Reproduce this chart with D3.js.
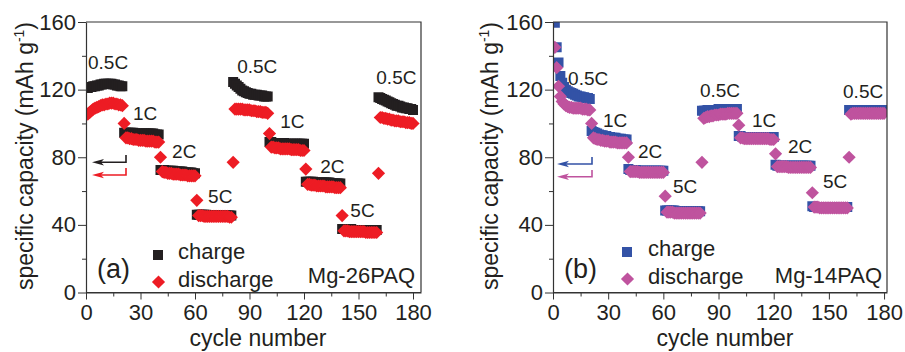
<!DOCTYPE html>
<html><head><meta charset="utf-8">
<script src="https://cdn.jsdelivr.net/npm/d3@7"></script>
<style>
body{margin:0;background:#fff}
svg{display:block}
text{font-family:"Liberation Sans",Arial,Helvetica,sans-serif;fill:#231f20}
</style>
</head><body>
<svg id="chart" width="905" height="352"></svg>
<script>
// ---------------- DATA ----------------
const xTicks = [0, 30, 60, 90, 120, 150, 180];
const xMinorTicks = [15, 45, 75, 105, 135, 165];
const yTicks = [0, 40, 80, 120, 160];
const yMinorTicks = [20, 60, 100, 140];
const seriesNames = ["charge", "discharge"];
const rateLabels = ["0.5C", "1C", "2C", "5C", "0.5C", "1C", "2C", "5C", "0.5C"];

// Mg-26PAQ (panel a), cycles 1..180
const chargeA = [
  121,121.5,121.5,122,122,122.5,122.5,123,123,123.5,123.5,123.5,123.5,123.5,123,123,122.5,122.5,122,122,
  94.5,94.5,94.5,94.5,94.5,94.5,94,94,94,94,94,94,94,94,94,94,94,93.5,93.5,93.5,
  72.5,72.5,72.5,72,72,72,72,72,71.5,71.5,71.5,71.5,71.5,71,71,71,71,71,70.5,70.5,
  46,46,46,46,46,46,45.5,45.5,45.5,45.5,45.5,45.5,45.5,45.5,45.5,45.5,45.5,45.5,45.5,45.5,
  124.5,123.5,122.5,121.5,120.5,119.5,119,118.5,118,117.5,117.5,117,117,117,116.5,116.5,116.5,116,116,116,
  89,89,88.5,88.5,88.5,88.5,88.5,88.5,88.5,88,88,88,88,88,88,88,88,88,88,88,
  65.5,65.5,65.5,65.5,65.5,65,65,65,65,65,65,65,65,65,64.5,64.5,64.5,64.5,64.5,64.5,
  37.5,37.5,37.5,37.5,37.5,37.5,37,37,37,37,37,37,37,37,37,37,37,37,37,37,
  115.5,115,114.5,114,113.5,113,112.5,112,111.5,111,110.5,110.5,110,109.5,109.5,109,109,108.5,108.5,108
];
const dischargeA = [
  105.5,106.5,107.5,108.5,109,109.5,110,110.5,111,111,111.5,111.5,112,112,112,111.5,111.5,111,111,110.5,
  100,91.5,91.5,91,91,90.5,90.5,90.5,90,90,90,90,89.5,89.5,89.5,89.5,89.5,89,89,89,
  80,71.5,71,71,70.5,70.5,70.5,70,70,70,70,69.5,69.5,69.5,69.5,69,69,69,69,69,
  54.5,45.5,45.5,45.5,45,45,45,45,45,45,45,45,45,45,45,45,45,45,44.5,44.5,
  77,108.5,108.5,108.5,108.5,108.5,108,108,108,108,107.5,107.5,107.5,107,107,107,106.5,106.5,106.5,106,
  94,86,86,85.5,85.5,85.5,85,85,85,85,85,85,84.5,84.5,84.5,84.5,84.5,84,84,84,
  73,64,64,63.5,63.5,63.5,63,63,63,63,63,62.5,62.5,62.5,62.5,62.5,62,62,62,62,
  45.5,36.5,36.5,36.5,36,36,36,36,36,36,36,36,36,35.5,35.5,35.5,35.5,35.5,35.5,35.5,
  70.5,103.5,103.5,103,103,102.5,102.5,102,102,101.5,101.5,101.5,101,101,101,100.5,100.5,100.5,100,100
];
// Mg-14PAQ (panel b), cycles 1..180
const chargeB = [
  159.5,145,136,128,124,121.5,120,119,118.5,118,117.5,117,116.5,116,116,115.5,115.5,115,115,114.5,
  95.5,95,94.5,94,93.5,93,93,92.5,92.5,92,92,91.5,91.5,91.5,91,91,91,90.5,90.5,90.5,
  73,72.5,72.5,72.5,72.5,72,72,72,72,72,72,72,72,72,72,72,72,72,72,72,
  48.5,48.5,48.5,48.5,48.5,48.5,48,48,48,48,48,48,48,48,48,48,48,48,48,48,
  107.5,107.5,107.5,108,108,108,108,108,108,108.5,108.5,108.5,108.5,108.5,108.5,108.5,108.5,108.5,108.5,108.5,
  92.5,92.5,92,92,92,92,92,92,92,92,92,92,92,92,92,92,92,92,92,92,
  75.5,75,75,75,75,75,75,75,75,75,75,75,75,75,75,75,75,75,75,75,
  51,50.5,50.5,50.5,50.5,50.5,50.5,50.5,50.5,50.5,50.5,50.5,50.5,50.5,50.5,50.5,50.5,50.5,50.5,50.5,
  108,108,108,108,108,108,108,108,108,108,108,108,108,108,108,108,108,108,108,108
];
const dischargeB = [
  145,133,122,116,113,111.5,110.5,110,109.5,109.5,109,109,109,109,109,108.5,108.5,108.5,108,108,
  100,91.5,91,90.5,90.5,90,90,89.5,89.5,89.5,89,89,89,89,88.5,88.5,88.5,88.5,88.5,88.5,
  80,71.5,71.5,71.5,71.5,71.5,71,71,71,71,71,71,71,71,71,71,71,71,71,71,
  57,47.5,47.5,47.5,47.5,47,47,47,47,47,47,47,47,47,47,47,47,47,47,47,
  77,103,103.5,104,104,104.5,104.5,105,105,105,105.5,105.5,105.5,105.5,106,106,106,106,106,106,
  99,91.5,91.5,91,91,91,91,91,91,91,91,91,91,91,91,91,91,90.5,90.5,90.5,
  82,74.5,74.5,74.5,74.5,74.5,74.5,74,74,74,74,74,74,74,74,74,74,74,74,74,
  59,50.5,50.5,50.5,50,50,50,50,50,50,50,50,50,50,50,50,50,50,50,50,
  80,105.5,106,106,106,106,106,106,106,106,106,106,106,106,106,106,106,106,106,106
];
// rate-label anchors in data space (cycle, capacity)
const labelCycleA = [1.1, 25.9, 47.4, 67.2, 83.2, 106.9, 128.9, 145.5, 159.8];
const labelCapA   = [132, 102, 79.6, 52.9, 130, 97.3, 70.7, 44.7, 123.3];
const labelCycleB = [8.2, 27.2, 46.2, 65.2, 79.9, 108.2, 127.8, 146.8, 157.7];
const labelCapB   = [122.7, 97.9, 79.6, 58.9, 115.6, 97.9, 82.5, 61.8, 115];

// ---------------- DRAW ----------------
const svg = d3.select("#chart");
const AX = "#333333";
const squarePath = "M-5,-5h10v10h-10Z";
const diamondPath = "M0,-6.6L6.6,0L0,6.6L-6.6,0Z";

function drawPanel(cfg) {
  const g = svg.append("g");
  const x = d3.scaleLinear().domain([0, cfg.xMax]).range([cfg.x0, cfg.x1]);
  const y = d3.scaleLinear().domain([0, 160]).range([292.5, 22]);
  const cycles = cfg.charge.map((v, i) => i + 1);

  const clipId = "clip" + cfg.id;
  svg.append("clipPath").attr("id", clipId).append("rect")
    .attr("x", cfg.x0).attr("y", 22).attr("width", cfg.x1 - cfg.x0).attr("height", 292.5 - 22);
  const plot = g.append("g").attr("clip-path", `url(#${clipId})`);

  plot.append("g").selectAll("path").data(cycles).join("path")
    .attr("d", squarePath)
    .attr("transform", c => `translate(${x(c)},${y(cfg.charge[c - 1])})`)
    .attr("fill", cfg.cCol);
  plot.append("g").selectAll("path").data(cycles).join("path")
    .attr("d", diamondPath)
    .attr("transform", c => `translate(${x(c)},${y(cfg.discharge[c - 1])})`)
    .attr("fill", cfg.dCol);

  // frame top/right
  g.append("path").attr("d", `M${cfg.x0},22H${cfg.x1}V292.5`)
    .attr("fill", "none").attr("stroke", AX).attr("stroke-width", 1.2);

  // axes
  const yAx = g.append("g").attr("transform", `translate(${cfg.x0},0)`)
    .call(d3.axisLeft(y).tickValues(yTicks).tickSize(8).tickSizeOuter(0).tickPadding(2));
  const yMin = g.append("g").attr("transform", `translate(${cfg.x0},0)`)
    .call(d3.axisLeft(y).tickValues(yMinorTicks).tickSize(4).tickSizeOuter(0).tickFormat(""));
  const xAx = g.append("g").attr("transform", `translate(0,292.5)`)
    .call(d3.axisBottom(x).tickValues(xTicks).tickSize(7).tickSizeOuter(0).tickPadding(4.5));
  const xMin = g.append("g").attr("transform", `translate(0,292.5)`)
    .call(d3.axisBottom(x).tickValues(xMinorTicks).tickSize(4).tickSizeOuter(0).tickFormat(""));
  [yAx, yMin, xAx, xMin].forEach(a => {
    a.selectAll("path.domain").attr("stroke", AX).attr("stroke-width", 1.2);
    a.selectAll("line").attr("stroke", AX).attr("stroke-width", 1);
    a.selectAll("text").attr("font-size", 22).attr("fill", "#231f20")
      .attr("font-family", '"Liberation Sans",Arial,sans-serif');
  });
  xMin.select("path.domain").remove();
  yMin.select("path.domain").remove();
  g.append("line").attr("x1", cfg.x0).attr("x2", cfg.x1).attr("y1", 292.5).attr("y2", 292.5)
    .attr("stroke", AX).attr("stroke-width", 1.2);

  // axis titles
  g.append("text").attr("x", cfg.x0 + 172).attr("y", 345.5).attr("text-anchor", "middle")
    .attr("font-size", 23).text("cycle number");
  const yt = g.append("text")
    .attr("transform", `translate(${cfg.yTitleX},156) rotate(-90)`)
    .attr("text-anchor", "middle").attr("font-size", 23);
  yt.append("tspan").text("specific capacity (mAh g");
  yt.append("tspan").attr("font-size", 14).attr("dy", -9).text("-1");
  yt.append("tspan").attr("dy", 9).text(")");

  // rate labels
  g.append("g").selectAll("text").data(rateLabels).join("text")
    .attr("x", (d, i) => x(cfg.labelCycle[i]))
    .attr("y", (d, i) => y(cfg.labelCap[i]))
    .attr("font-size", 19).text(d => d);

  // legend arrows
  const ar = cfg.arrows;
  [[ar.y1, ar.v1, cfg.cCol], [ar.y2, ar.v2, cfg.dCol]].forEach(([yy, yv, col]) => {
    g.append("path").attr("d", `M${ar.xa + 4},${yy}H${ar.xb}V${yv}`)
      .attr("fill", "none").attr("stroke", col).attr("stroke-width", 1.6);
    g.append("path").attr("d", `M${ar.xa},${yy}L${ar.xa + 12},${yy - 3.2}L${ar.xa + 9},${yy}L${ar.xa + 12},${yy + 3.2}Z`)
      .attr("fill", col);
  });

  // legend
  const L = cfg.legend;
  g.append("path").attr("d", squarePath).attr("transform", `translate(${L.mx},${L.y1})`).attr("fill", cfg.cCol);
  g.append("path").attr("d", diamondPath).attr("transform", `translate(${L.mx + 0.5},${L.y2})`).attr("fill", cfg.dCol);
  g.append("text").attr("x", L.tx).attr("y", L.y1 + 3.5).attr("font-size", 22).text(seriesNames[0]);
  g.append("text").attr("x", L.tx).attr("y", L.y2 + 5).attr("font-size", 22).text(seriesNames[1]);

  g.append("text").attr("x", cfg.x0 + 11).attr("y", 278).attr("font-size", 27).text(cfg.tag);
  g.append("text").attr("x", cfg.nameX).attr("y", 283).attr("text-anchor", "end")
    .attr("font-size", 22).text(cfg.name);
}

drawPanel({
  id: "a", x0: 86, x1: 421, xMax: 184.4, charge: chargeA, discharge: dischargeA,
  cCol: "#231f20", dCol: "#ed1c24", labelCycle: labelCycleA, labelCap: labelCapA,
  yTitleX: 33, tag: "(a)", name: "Mg-26PAQ", nameX: 415,
  arrows: {xa: 92, xb: 126, y1: 162.3, v1: 155, y2: 175, v2: 168},
  legend: {mx: 158, tx: 178, y1: 255, y2: 282}
});
drawPanel({
  id: "b", x0: 553, x1: 887, xMax: 181.6, charge: chargeB, discharge: dischargeB,
  cCol: "#3352a6", dCol: "#bf539e", labelCycle: labelCycleB, labelCap: labelCapB,
  yTitleX: 498, tag: "(b)", name: "Mg-14PAQ", nameX: 882,
  arrows: {xa: 557, xb: 592, y1: 164, v1: 157, y2: 176.7, v2: 170},
  legend: {mx: 627, tx: 648, y1: 252, y2: 279}
});
</script>
</body></html>
